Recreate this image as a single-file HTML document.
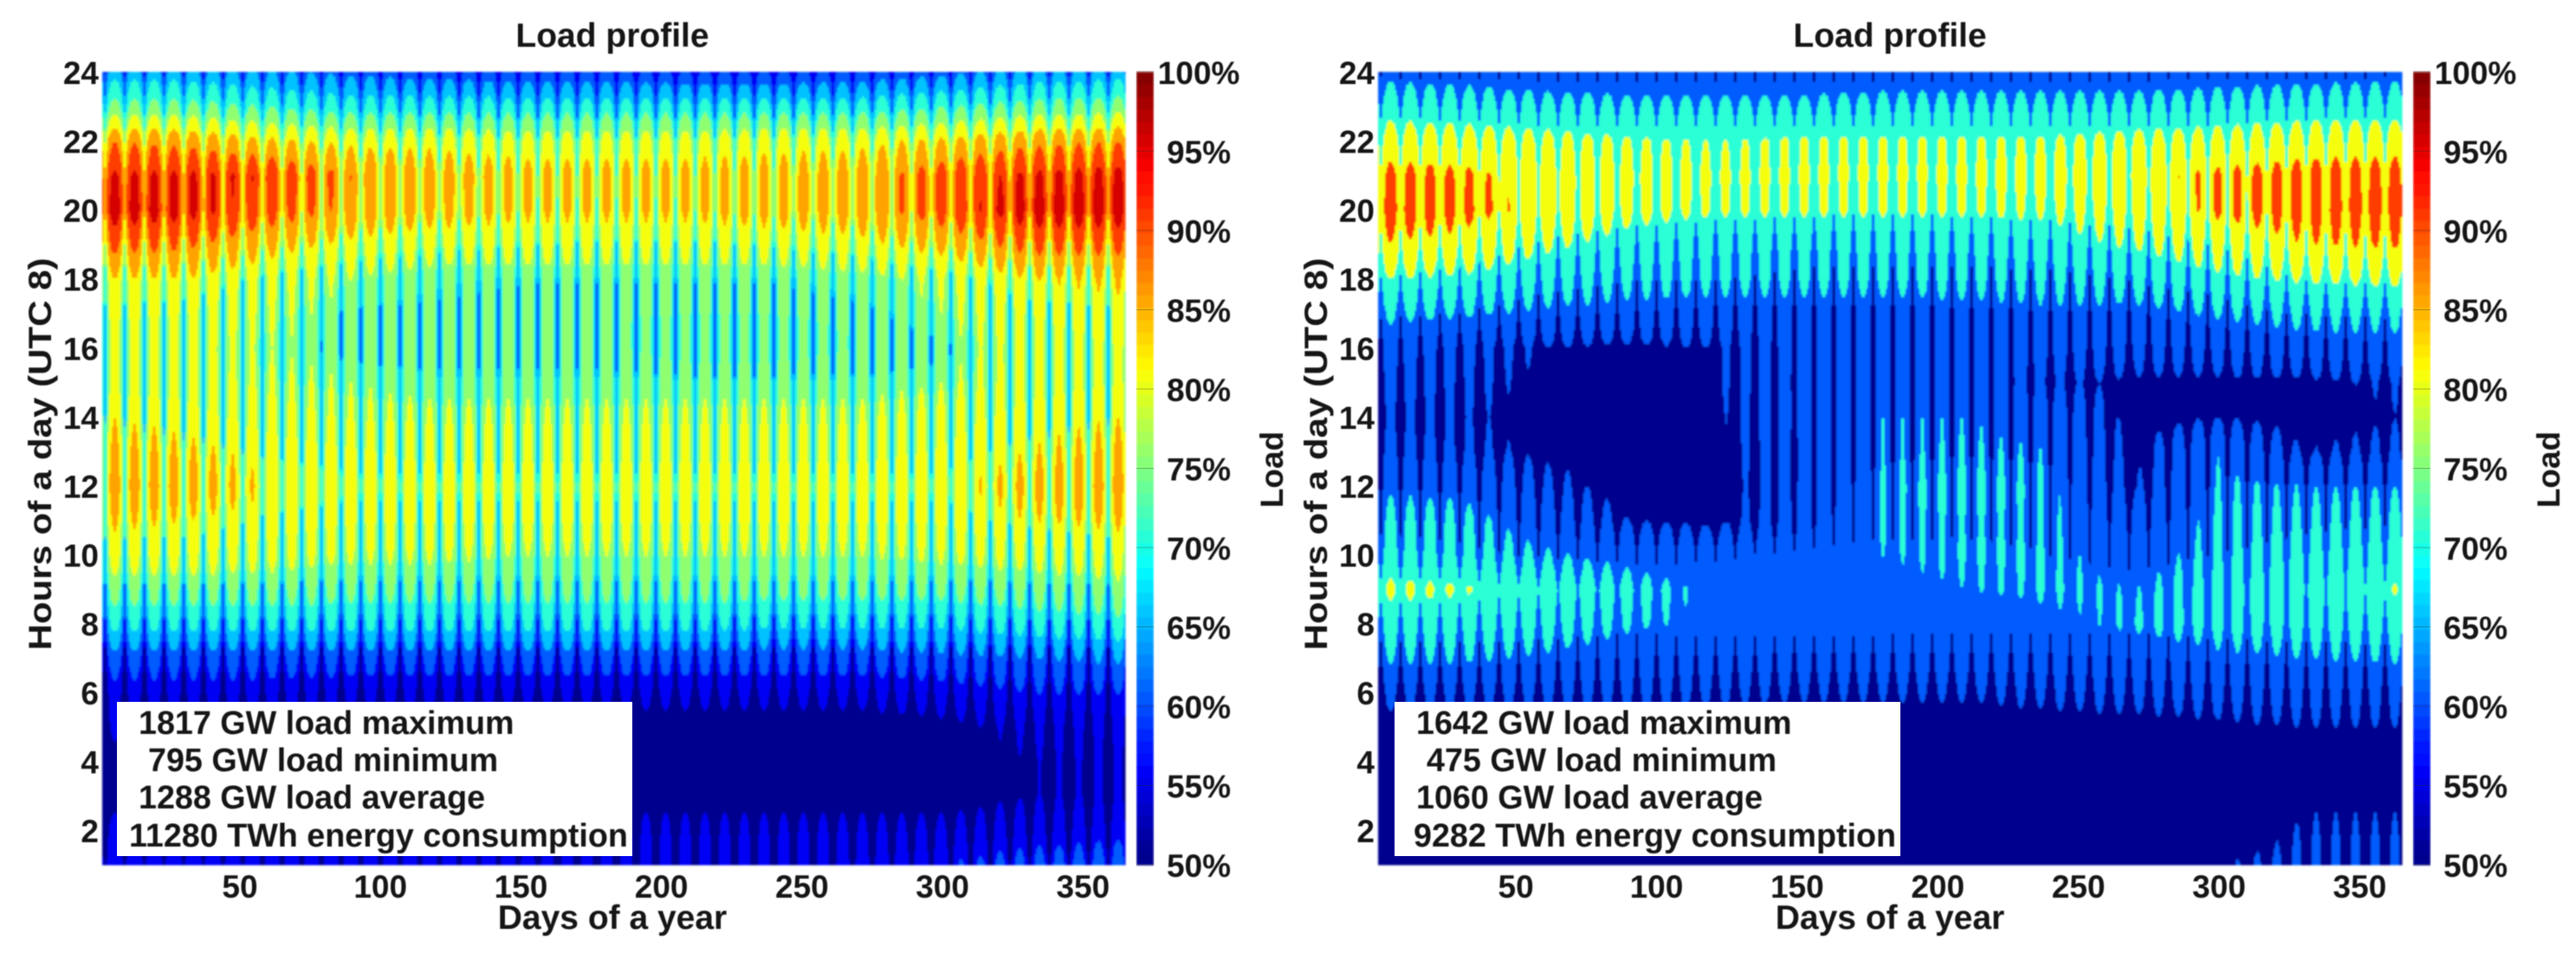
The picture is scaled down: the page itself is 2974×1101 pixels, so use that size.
<!DOCTYPE html>
<html lang="en">
<head>
<meta charset="utf-8">
<title>Load profile heatmaps</title>
<style>
html,body{margin:0;padding:0;background:#fff;}
svg{display:block;}
text{font-family:"Liberation Sans",Arial,sans-serif;font-weight:bold;fill:#141414;}
</style>
</head>
<body>
<svg id="figure" xmlns="http://www.w3.org/2000/svg" width="2974" height="1101" viewBox="0 0 2974 1101">
  <defs>
    <filter id="soft" x="-2%" y="-2%" width="104%" height="104%"><feGaussianBlur stdDeviation="1.1"/></filter>
    <filter id="softText" x="-5%" y="-5%" width="110%" height="110%"><feGaussianBlur stdDeviation="0.55"/></filter>
  </defs>
  <g id="left-chart"></g>
  <g id="right-chart"></g>
</svg>
<script>
const hoursOfDay = [24,23,22,21,20,19,18,17,16,15,14,13,12,11,10,9,8,7,6,5,4,3,2,1];
const anchorDays = [1,30,60,90,120,150,180,210,240,270,300,330,365];
const weekCycle = [0,0.6,0.9,1,1,0.9,0.6];
const dayTicks = [50,100,150,200,250,300,350];
const hourTicks = [2,4,6,8,10,12,14,16,18,20,22,24];
const percentTicks = [50,55,60,65,70,75,80,85,90,95,100];
const leftNotes = ["1817 GW load maximum","795 GW load minimum","1288 GW load average","11280 TWh energy consumption"];
const rightNotes = ["1642 GW load maximum","475 GW load minimum","1060 GW load average","9282 TWh energy consumption"];

const leftPeakLoad = [
[68,68,66,64,63,62,62,61,61,62,64,67,68],
[77,77,75,73,73,73,73,73,73,73,75,77,78],
[90,89,86,84,84,83,83,83,84,84,86,89,90],
[96,96,95,90,88,87,87,87,87,88,93,96,97],
[98,97,93,89,87,86,86,86,87,88,93,98,98],
[92,91,87,84,83,83,83,83,83,84,87,92,92],
[85,85,82,80,78,78,78,78,78,79,81,85,86],
[83,83,81,79,78,78,78,78,78,78,80,83,84],
[82,82,80,79,78,78,78,77,77,78,79,82,83],
[82,82,81,80,79,79,79,79,79,79,80,82,83],
[85,84,82,81,81,81,81,81,81,81,82,84,85],
[87,86,84,83,82,82,82,82,82,82,83,85,87],
[89,88,85,84,84,84,84,84,84,84,84,87,89],
[86,85,84,83,83,83,83,83,83,83,83,85,86],
[83,83,82,81,81,80,80,80,80,80,81,82,83],
[78,78,78,77,77,77,77,77,77,77,77,78,79],
[72,72,72,72,72,72,72,72,71,71,71,73,74],
[63,63,63,63,63,63,63,63,63,63,64,65,66],
[58,58,58,57,57,57,57,57,57,57,58,60,60],
[56,55,55,54,54,53,53,53,53,53,54,56,57],
[54,53,52,52,51,51,51,51,51,52,53,55,56],
[53,53,53,53,53,53,53,53,53,53,53,55,56],
[57,57,57,57,57,57,57,57,57,57,57,58,59],
[60,60,60,60,60,59,58,58,58,59,60,62,63]
];
const leftTroughLoad = [
[58,57,56,55,54,54,54,54,54,54,55,57,58],
[66,66,64,62,61,60,60,60,60,61,63,65,66],
[78,77,74,71,70,69,69,69,69,71,74,77,78],
[85,84,80,76,75,73,73,73,74,76,80,84,85],
[85,84,80,76,75,73,73,73,74,76,80,84,85],
[78,77,74,71,69,68,67,67,68,70,74,77,78],
[70,70,67,65,64,63,63,63,63,64,66,70,70],
[67,66,64,62,62,61,61,61,61,62,64,66,67],
[66,65,63,62,62,62,62,61,61,61,62,65,66],
[66,65,63,63,63,63,63,63,63,63,63,65,66],
[67,66,65,65,65,65,65,65,65,65,65,66,67],
[69,68,67,67,67,67,67,67,67,67,67,68,69],
[70,70,69,68,68,68,68,68,68,68,68,69,70],
[69,69,67,67,67,67,67,67,67,67,67,68,69],
[66,66,65,65,65,65,65,65,65,65,65,65,66],
[62,62,62,62,62,62,62,62,62,62,62,62,62],
[57,57,57,57,57,57,57,57,57,57,57,57,57],
[51,51,51,51,51,51,51,51,51,51,51,51,51],
[49,49,49,49,49,49,49,49,49,49,49,49,49],
[49,48,47,46,45,45,45,45,45,45,46,47,49],
[48,47,46,45,44,44,44,44,44,45,45,47,48],
[48,47,46,45,44,44,44,44,44,45,45,47,48],
[49,48,47,46,45,45,45,45,45,45,46,47,49],
[52,52,51,50,49,48,47,47,47,48,49,51,52]
];
const rightPeakLoad = [
[68,67,65,64,64,64,65,65,65,65,66,67,68],
[76,75,74,73,73,73,74,74,74,74,75,76,76],
[86,85,83,81,80,81,81,81,81,83,84,86,87],
[93,92,88,84,82,82,82,82,83,88,92,94,94],
[95,93,88,83,81,81,81,81,81,85,92,94,95],
[90,88,82,77,75,75,76,76,78,81,85,90,91],
[80,79,75,73,73,73,73,73,73,75,79,81,82],
[72,71,69,68,67,67,67,68,69,68,71,73,73],
[66,63,60,59,60,66,68,68,66,64,65,67,68],
[64,62,59,59,60,65,69,69,61,59,59,59,61],
[61,61,58,58,59,66,70,70,68,58,60,58,60],
[64,62,59,58,59,64,70,71,70,59,70,60,62],
[69,68,62,58,58,64,71,72,71,60,71,70,70],
[73,73,66,60,59,64,71,71,71,64,72,72,74],
[76,75,71,68,66,66,70,71,71,68,72,75,76],
[82,81,77,73,69,68,69,70,71,70,73,76,81],
[76,76,75,71,69,67,67,67,69,71,73,75,76],
[71,71,69,67,66,66,66,66,66,67,69,70,71],
[63,63,63,63,62,61,61,61,62,63,64,65,64],
[57,57,57,57,57,57,57,57,58,58,59,60,60],
[50,50,50,50,50,50,50,50,50,52,52,54,54],
[48,48,48,48,48,48,48,48,48,50,52,59,59],
[50,50,50,50,50,50,50,50,50,52,55,61,61],
[50,50,50,50,50,50,50,50,52,56,60,63,63]
];
const rightTroughLoad = [
[57,57,57,57,57,57,57,57,57,57,57,57,57],
[66,65,64,64,64,64,64,64,64,64,64,65,66],
[74,74,72,72,72,72,72,72,72,72,72,74,74],
[80,80,76,73,72,72,72,72,73,74,77,80,81],
[82,81,76,72,71,70,69,70,71,72,76,81,82],
[76,74,66,64,62,61,60,60,62,64,68,76,77],
[68,65,60,58,58,56,56,56,56,58,60,69,70],
[59,58,54,53,52,52,52,52,52,53,55,58,59],
[52,52,50,50,50,50,50,50,50,50,50,50,52],
[50,50,50,50,50,50,50,50,50,50,50,50,50],
[50,50,50,50,50,50,50,50,50,50,50,50,50],
[51,51,50,50,50,50,50,50,50,50,50,50,51],
[52,52,50,50,50,52,54,56,54,52,52,52,52],
[56,55,52,52,52,54,56,56,56,54,54,56,57],
[60,59,57,56,58,60,60,60,58,57,58,60,62],
[72,72,70,65,62,62,62,62,61,60,62,66,72],
[62,62,61,60,61,62,61,61,60,60,61,62,63],
[54,54,54,54,54,54,54,54,54,54,54,54,54],
[48,48,48,48,48,48,48,48,48,48,48,48,48],
[45,45,45,45,45,45,45,45,45,45,45,45,45],
[45,45,45,45,45,45,45,45,45,45,45,45,45],
[45,45,45,45,45,45,45,45,45,45,45,45,45],
[45,45,45,45,45,45,45,45,45,45,45,45,45],
[45,45,45,45,45,45,45,45,45,45,45,45,45]
];

const SVG_NS = "http://www.w3.org/2000/svg";
const PLOT_TOP = 83, PLOT_BOTTOM = 998;

function svgEl(tag, attrs, parent) {
  const el = document.createElementNS(SVG_NS, tag);
  for (const k in attrs) el.setAttribute(k, attrs[k]);
  parent.appendChild(el);
  return el;
}
function clamp01(v) { return Math.max(0, Math.min(1, v)); }
function jet(t) {
  const r = clamp01(1.5 - Math.abs(4 * t - 3));
  const g = clamp01(1.5 - Math.abs(4 * t - 2));
  const b = Math.max(t < 0.2 ? 0.5625 : 0, clamp01(1.5 - Math.abs(4 * t - 1)));
  return "rgb(" + Math.round(r * 255) + "," + Math.round(g * 255) + "," + Math.round(b * 255) + ")";
}
function percentToColor(level) {
  const t = clamp01((level - 50) / 50);
  return jet(t > 0 ? t + 0.015 : 0);
}
function lerp(a, b, f) { return a + (b - a) * f; }
function bracket(list, value) {
  let i = 0;
  while (i < list.length - 2 && value > list[i + 1]) i++;
  return [i, clamp01((value - list[i]) / (list[i + 1] - list[i]))];
}
function sampleTable(table, day, hour) {
  const [c, cf] = bracket(anchorDays, day);
  const rowPos = Math.max(0, Math.min(hoursOfDay.length - 1, 24 - hour));
  const r = Math.min(hoursOfDay.length - 2, Math.floor(rowPos));
  const rf = rowPos - r;
  return lerp(lerp(table[r][c], table[r][c + 1], cf), lerp(table[r + 1][c], table[r + 1][c + 1], cf), rf);
}
function weekWeight(day) {
  const p = (((day - 2) % 7) + 7) % 7;
  const i = Math.floor(p);
  return lerp(weekCycle[i], weekCycle[(i + 1) % 7], p - i);
}

function drawChart(root, cfg) {
  const xScale = d => cfg.x0 + (d - 1) * (cfg.x1 - cfg.x0) / 364;
  const yScale = h => PLOT_BOTTOM - (h - 1) * (PLOT_BOTTOM - PLOT_TOP) / 23;
  const pScale = p => PLOT_BOTTOM - (p - 50) * (PLOT_BOTTOM - PLOT_TOP) / 50;

  const heat = svgEl("g", { filter: "url(#soft)" }, root);
  
  
  const dayStep = 0.5, hourStep = 0.08;
  for (let d = 1; d < 365; d += dayStep) {
    const w = weekWeight(d + dayStep / 2);
    let runStart = 1, runLevel = null;
    const flush = (hEnd) => {
      const cell = svgEl("rect", {
        x: xScale(d).toFixed(2),
        y: yScale(hEnd).toFixed(2),
        width: (xScale(d + dayStep) - xScale(d) + 0.5).toFixed(2),
        height: (yScale(runStart) - yScale(hEnd) + 0.5).toFixed(2),
        fill: percentToColor(runLevel)
      }, heat);
      
      
    };
    for (let h = 1; h < 24; h += hourStep) {
      const mid = h + hourStep / 2;
      const v = lerp(sampleTable(cfg.trough, d, mid), sampleTable(cfg.peak, d, mid), w);
      const level = Math.floor(v / cfg.step) * cfg.step;
      const band = Math.max(50, level);
      if (runLevel === null) { runLevel = band; runStart = h; }
      else if (band !== runLevel) { flush(h); runLevel = band; runStart = h; }
    }
    flush(24);
  }

  const bar = svgEl("g", { filter: "url(#soft)" }, root);
  
  
  const segments = 64;
  for (let i = 0; i < segments; i++) {
    const pLow = 50 + i * 50 / segments, pHigh = 50 + (i + 1) * 50 / segments;
    const seg = svgEl("rect", {
      x: cfg.x1 + 13, y: pScale(pHigh).toFixed(2), width: 20,
      height: (pScale(pLow) - pScale(pHigh) + 0.6).toFixed(2),
      fill: jet((i + 0.5) / segments)
    }, bar);
    
    
  }

  const text = svgEl("g", { filter: "url(#softText)" }, root);
  
  

  percentTicks.forEach(p => {
    const mark = svgEl("line", { x1: cfg.x1 + 13, x2: cfg.x1 + 33, y1: pScale(p), y2: pScale(p), stroke: "#333", "stroke-width": 1, opacity: 0.35 }, root);
    
    
    const t = svgEl("text", { x: cfg.x1 + 85, y: pScale(p) + 14, "text-anchor": "middle", "font-size": 37 }, text);
    
    
    t.textContent = p + "%";
  });
  hourTicks.forEach(h => {
    const t = svgEl("text", { x: cfg.x0 - 4, y: yScale(h) + 14, "text-anchor": "end", "font-size": 37 }, text);
    
    
    t.textContent = h;
  });
  dayTicks.forEach(d => {
    const t = svgEl("text", { x: xScale(d), y: 1036, "text-anchor": "middle", "font-size": 37 }, text);
    
    
    t.textContent = d;
  });

  const title = svgEl("text", { x: cfg.titleX, y: 54, "text-anchor": "middle", "font-size": 39 }, text);
  
  
  title.textContent = "Load profile";

  const xTitle = svgEl("text", { x: cfg.titleX, y: 1072, "text-anchor": "middle", "font-size": 39 }, text);
  
  
  xTitle.textContent = "Days of a year";

  const yTitle = svgEl("text", { transform: "translate(" + (cfg.x0 - 59) + ",524) rotate(-90)", "text-anchor": "middle", "font-size": 37, textLength: 453, lengthAdjust: "spacingAndGlyphs" }, text);
  
  
  yTitle.textContent = "Hours of a day (UTC 8)";

  const barTitle = svgEl("text", { transform: "translate(" + (cfg.x1 + 182) + ",542) rotate(-90)", "text-anchor": "middle", "font-size": 37 }, text);
  
  
  barTitle.textContent = "Load";

  const box = svgEl("rect", { x: cfg.boxX, y: 810, width: cfg.boxW, height: 178, fill: "#fff" }, root);
  
  
  const boxText = svgEl("g", { filter: "url(#softText)" }, root);
  
  
  const baselines = [847, 890, 933, 977];
  cfg.notes.forEach((line, i) => {
    const t = svgEl("text", { x: cfg.noteX[i], y: baselines[i], "font-size": 37.7 }, boxText);
    
    
    t.textContent = line;
  });
}

drawChart(document.getElementById("left-chart"), {
  x0: 118, x1: 1299, titleX: 707, peak: leftPeakLoad, trough: leftTroughLoad, step: 5,
  boxX: 135, boxW: 595, notes: leftNotes, noteX: [160, 171, 160, 149]
});
drawChart(document.getElementById("right-chart"), {
  x0: 1591, x1: 2773, titleX: 2182, peak: rightPeakLoad, trough: rightTroughLoad, step: 10,
  boxX: 1610, boxW: 584, notes: rightNotes, noteX: [1635, 1647, 1635, 1632]
});
</script>
</body>
</html>
